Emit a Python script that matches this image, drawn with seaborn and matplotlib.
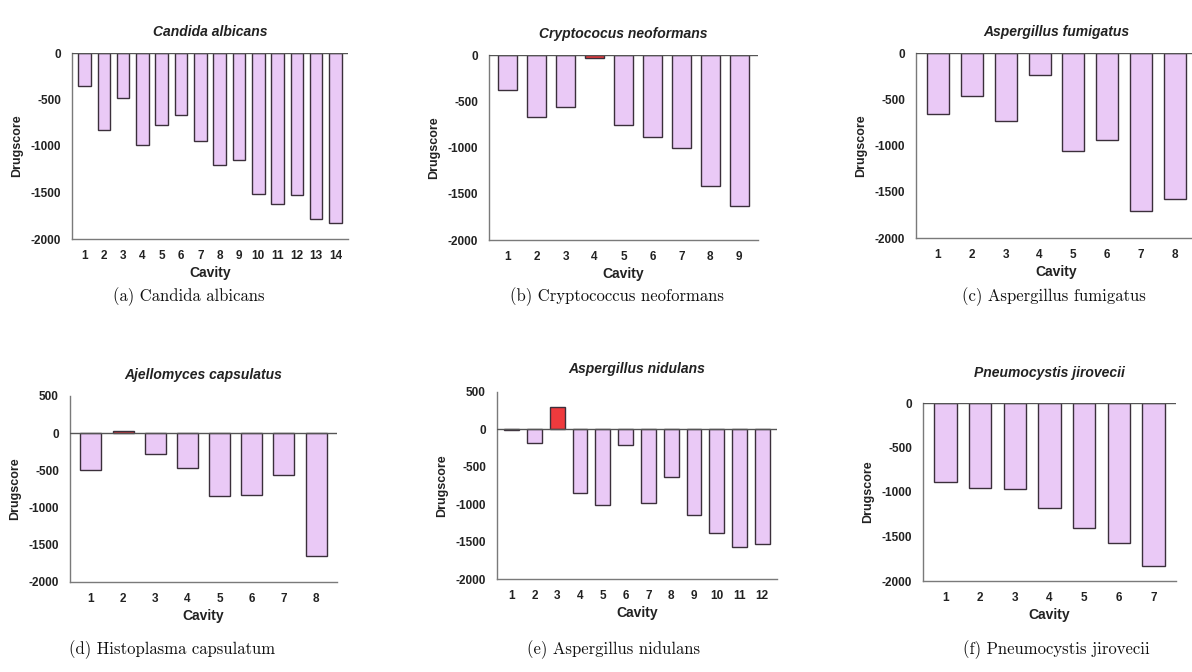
import matplotlib
matplotlib.use("Agg")
import matplotlib.pyplot as plt
import seaborn as sns
import pandas as pd

# ---------------- data ----------------
titles = ["Candida albicans", "Cryptococus neoformans", "Aspergillus fumigatus",
          "Ajellomyces capsulatus", "Aspergillus nidulans", "Pneumocystis jirovecii"]
captions = ["(a) Candida albicans", "(b) Cryptococcus neoformans", "(c) Aspergillus fumigatus",
            "(d) Histoplasma capsulatum", "(e) Aspergillus nidulans", "(f) Pneumocystis jirovecii"]

scores_a = [-350, -830, -480, -990, -775, -670, -945, -1205, -1150, -1520, -1625, -1530, -1790, -1830]
scores_b = [-375, -675, -565, -35, -760, -890, -1010, -1415, -1630]
scores_c = [-655, -465, -730, -237, -1055, -945, -1710, -1575]
scores_d = [-500, 30, -275, -470, -850, -835, -560, -1650]
scores_e = [-5, -187, 298, -855, -1013, -213, -978, -631, -1138, -1391, -1573, -1533]
scores_f = [-890, -950, -965, -1175, -1400, -1578, -1836]

# cavities drawn in red in the reference
highlight_a = []
highlight_b = [4]
highlight_c = []
highlight_d = [2]
highlight_e = [3]
highlight_f = []

y_ticks_neg = [-2000, -1500, -1000, -500, 0]
y_ticks_pos = [-2000, -1500, -1000, -500, 0, 500]

# ---------------- style ----------------
sns.set_theme(style="white")
plt.rcParams["font.family"] = ["Liberation Sans", "DejaVu Sans"]
plt.rcParams["axes.unicode_minus"] = False

W, H = 1192, 672
fig = plt.figure(figsize=(W / 100, H / 100), dpi=100)
fig.patch.set_facecolor("white")

BAR = "#EAC9F6"
RED = "#EF3A3D"
EDGE = "#3b2f3b"
AX = "#7a7a7a"

panels = [
    (scores_a, highlight_a, y_ticks_neg, (72, 348, 53, 239), 12, (189, 297)),
    (scores_b, highlight_b, y_ticks_neg, (489, 758, 55, 240), 12, (617, 297)),
    (scores_c, highlight_c, y_ticks_neg, (916, 1197, 53, 238), 12, (1054, 297)),
    (scores_d, highlight_d, y_ticks_pos, (70, 337, 396, 582), 12, (172, 650)),
    (scores_e, highlight_e, y_ticks_pos, (497, 777, 392, 579), 14, (614, 650)),
    (scores_f, highlight_f, y_ticks_neg, (923, 1176, 403, 581), 19, (1056, 650)),
]

for i, (vals, hl, yt, (l, r, t, b), pad, (cx, cy)) in enumerate(panels):
    ax = fig.add_axes([l / W, 1 - b / H, (r - l) / W, (b - t) / H])
    cav = [str(k + 1) for k in range(len(vals))]
    df = pd.DataFrame({"Cavity": cav, "Drugscore": vals})
    pal = {c: (RED if (k + 1) in hl else BAR) for k, c in enumerate(cav)}
    sns.barplot(data=df, x="Cavity", y="Drugscore", hue="Cavity", palette=pal,
                legend=False, width=0.65, edgecolor=EDGE, linewidth=1.0,
                saturation=1, ax=ax, zorder=2)
    ax.set_xlim(-0.65, len(vals) - 0.35)
    ax.set_ylim(yt[0], yt[-1])
    ax.set_yticks(yt)
    ax.set_yticklabels([str(v) for v in yt])
    ax.axhline(0, color="#555555", lw=1.0, zorder=3)
    for s in ["top", "right"]:
        ax.spines[s].set_visible(False)
    for s in ["left", "bottom"]:
        ax.spines[s].set_color(AX)
        ax.spines[s].set_linewidth(1.0)
    ax.tick_params(axis="both", direction="out", length=5, width=1.0, color=AX,
                   labelsize=8.5, labelcolor="#222222", pad=3)
    for lab in ax.get_xticklabels() + ax.get_yticklabels():
        lab.set_fontweight("bold")
    ax.set_xlabel("Cavity", fontsize=10, fontweight="bold", color="#222222", labelpad=3)
    ax.set_ylabel("Drugscore", fontsize=9, fontweight="bold", color="#222222", labelpad=5)
    ax.set_title(titles[i], fontsize=10, fontweight="bold", fontstyle="italic",
                 color="#222222", pad=pad)
    ax.grid(False)
    fig.text(cx / W, 1 - cy / H, captions[i], ha="center", va="center",
             fontsize=12, family=["cmr10", "DejaVu Serif"], color="#111111")

fig.savefig("out.png", dpi=100, facecolor="white")
